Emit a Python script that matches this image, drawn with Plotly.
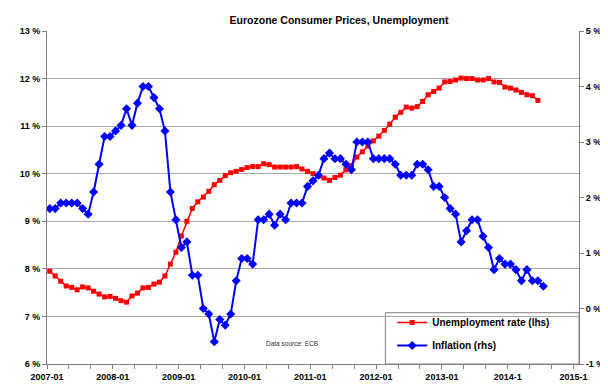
import plotly.graph_objects as go

# ---- data (monthly, from 2007-01) ----
unemployment = [
    7.95, 7.85, 7.74, 7.64, 7.61, 7.56, 7.62, 7.60, 7.53, 7.47, 7.41, 7.42,
    7.38, 7.33, 7.30, 7.43, 7.49, 7.60, 7.61, 7.68, 7.72, 7.85, 8.10, 8.35,
    8.69, 9.00, 9.27, 9.41, 9.51, 9.63, 9.77, 9.86, 9.96, 10.02, 10.05, 10.09,
    10.13, 10.15, 10.15, 10.21, 10.19, 10.14, 10.14, 10.14, 10.14, 10.15, 10.10, 10.05,
    10.00, 9.95, 9.91, 9.86, 9.92, 9.97, 10.08, 10.17, 10.35, 10.46, 10.58, 10.69,
    10.79, 10.91, 11.04, 11.19, 11.29, 11.40, 11.38, 11.41, 11.52, 11.66, 11.73, 11.80,
    11.93, 11.94, 11.97, 12.01, 12.00, 12.00, 11.97, 11.97, 12.00, 11.93, 11.92, 11.82,
    11.80, 11.76, 11.71, 11.66, 11.64, 11.54,
]
inflation = [
    1.8, 1.8, 1.9, 1.9, 1.9, 1.9, 1.8, 1.7, 2.1, 2.6, 3.1, 3.1,
    3.2, 3.3, 3.6, 3.3, 3.7, 4.0, 4.0, 3.8, 3.6, 3.2, 2.1, 1.6,
    1.1, 1.2, 0.6, 0.6, 0.0, -0.1, -0.6, -0.2, -0.3, -0.1, 0.5, 0.9,
    0.9, 0.8, 1.6, 1.6, 1.7, 1.5, 1.7, 1.6, 1.9, 1.9, 1.9, 2.2,
    2.3, 2.4, 2.7, 2.8, 2.7, 2.7, 2.6, 2.5, 3.0, 3.0, 3.0, 2.7,
    2.7, 2.7, 2.7, 2.6, 2.4, 2.4, 2.4, 2.6, 2.6, 2.5, 2.2, 2.2,
    2.0, 1.8, 1.7, 1.2, 1.4, 1.6, 1.6, 1.3, 1.1, 0.7, 0.9, 0.8,
    0.8, 0.7, 0.5, 0.7, 0.5, 0.5, 0.4,
]
months = [f"{y}-{m:02d}" for y in range(2007, 2016) for m in range(1, 13)][:97]
x_tick_labels = ["2007-01", "2008-01", "2009-01", "2010-01", "2011-01",
                 "2012-01", "2013-01", "2014-1", "2015-1"]
left_ticks = [6, 7, 8, 9, 10, 11, 12, 13]
right_ticks = [-1, 0, 1, 2, 3, 4, 5]

FONT = "Liberation Sans, Arial, sans-serif"
AXC = "#808080"
GRID = "#a6a6a6"

x_unemp = list(range(len(unemployment)))
x_infl = list(range(len(inflation)))

fig = go.Figure()
fig.add_trace(go.Scatter(
    x=x_unemp, y=unemployment, name="Unemployment rate (lhs)",
    mode="lines+markers", line=dict(color="#ff0000", width=1.5),
    marker=dict(symbol="square", size=5, color="#ff0000"),
    text=months[:len(unemployment)], legendgroup="u",
))
fig.add_trace(go.Scatter(
    x=x_infl, y=inflation, name="Inflation (rhs)", yaxis="y2",
    mode="lines+markers", line=dict(color="#0000ff", width=2),
    marker=dict(symbol="diamond", size=7, color="#0000ff"),
    text=months[:len(inflation)], legendgroup="i",
))

# legend box
lx0 = (379 - 33) / 544
ly1 = (358.3 - 306.7) / 335
fig.add_shape(type="rect", xref="paper", yref="paper", x0=lx0, x1=1, y0=0, y1=ly1,
              line=dict(color=AXC, width=1), fillcolor="white", layer="between")

fig.add_annotation(text="Data source: ECB", xref="paper", yref="paper",
                   x=(255 - 33) / 544, y=(358.3 - 338) / 335, xanchor="left", yanchor="middle",
                   showarrow=False, font=dict(family=FONT, size=6.5, color="#333333"))

fig.update_layout(
    width=608, height=386,
    margin=dict(l=33, r=31, t=23, b=28),
    paper_bgcolor="white", plot_bgcolor="white",
    font=dict(family=FONT, color="#000000"),
    title=dict(text="Eurozone Consumer Prices, Unemployment", x=331 / 608, xanchor="center",
               y=1 - 12.5 / 386, yanchor="middle",
               font=dict(family=FONT, size=10.5, weight="bold", color="#000000")),
    showlegend=True,
    legend=dict(x=(386 - 33) / 544, y=(358.3 - 302) / 335, xanchor="left", yanchor="top",
                bgcolor="rgba(0,0,0,0)", borderwidth=0, tracegroupgap=4,
                font=dict(family=FONT, size=10, weight="bold", color="#000000")),
    xaxis=dict(
        range=[-0.5, 96.5], showgrid=False, zeroline=False,
        showline=True, linecolor=AXC, linewidth=1,
        tickmode="array", tickvals=[-0.5 + 12 * k for k in range(len(x_tick_labels))],
        ticktext=x_tick_labels, ticks="outside", ticklen=4, tickcolor=AXC,
        tickfont=dict(family=FONT, size=9, weight="bold"),
        minor=dict(tick0=-0.5, dtick=4, ticks="outside", ticklen=4, tickcolor=AXC, showgrid=False),
    ),
    yaxis=dict(
        range=[6, 13], tickmode="array", tickvals=left_ticks,
        ticktext=[f"{v} %" for v in left_ticks],
        showgrid=True, gridcolor=GRID, gridwidth=1, zeroline=False,
        showline=True, linecolor=AXC, linewidth=1,
        ticks="outside", ticklen=4, tickcolor=AXC,
        tickfont=dict(family=FONT, size=9, weight="bold"),
    ),
    yaxis2=dict(
        range=[-1, 5], overlaying="y", side="right", tickmode="array", tickvals=right_ticks,
        ticktext=[f"{v} %" for v in right_ticks],
        showgrid=False, zeroline=False,
        showline=True, linecolor=AXC, linewidth=1,
        ticks="outside", ticklen=4, tickcolor=AXC,
        tickfont=dict(family=FONT, size=9, weight="bold"),
    ),
)

fig.write_html("out.html")
